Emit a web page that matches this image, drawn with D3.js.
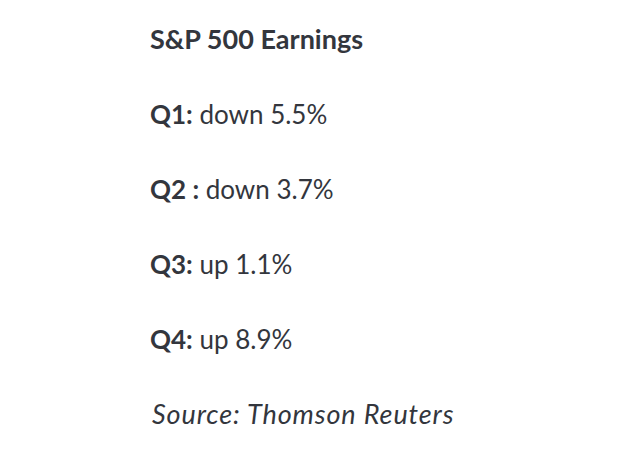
<!DOCTYPE html>
<html>
<head>
<meta charset="utf-8">
<script src="https://cdn.jsdelivr.net/npm/d3@7"></script>
<style>
  html, body { margin: 0; padding: 0; background: #fff; }
  svg { display: block; }
  text { font-family: Lato, "Open Sans", sans-serif; fill: #33363d; }
</style>
</head>
<body>
<svg id="chart" width="627" height="450"></svg>
<script>
const title = "S&P 500 Earnings";
const quarters = ["Q1:", "Q2 :", "Q3:", "Q4:"];
const directions = ["down", "down", "up", "up"];
const changes = [-5.5, -3.7, 1.1, 8.9];
const source = "Source: Thomson Reuters";

const width = 627;
const height = 450;
const left = 150;

const svg = d3.select("#chart");

// one row per line of text: title, four quarters, source
const rows = ["title", ...quarters, "source"];
const y = d3.scalePoint().domain(rows).range([49, 424]);

svg.append("text")
  .attr("x", left)
  .attr("y", y("title"))
  .attr("font-size", 27)
  .attr("font-weight", 700)
  .text(title);

const lines = svg.append("g")
  .selectAll("text")
  .data(quarters.map((q, i) => ({ q, dir: directions[i], value: changes[i] })))
  .join("text")
  .attr("x", left)
  .attr("y", (d) => y(d.q))
  .attr("font-size", 26);

lines.append("tspan")
  .attr("font-weight", 700)
  .text((d) => d.q);

lines.append("tspan")
  .text((d) => ` ${d.dir} ${Math.abs(d.value).toFixed(1)}%`);

svg.append("text")
  .attr("x", left + 2)
  .attr("y", y("source"))
  .attr("font-size", 27)
  .attr("font-style", "italic")
  .attr("letter-spacing", 0.9)
  .text(source);
</script>
</body>
</html>
